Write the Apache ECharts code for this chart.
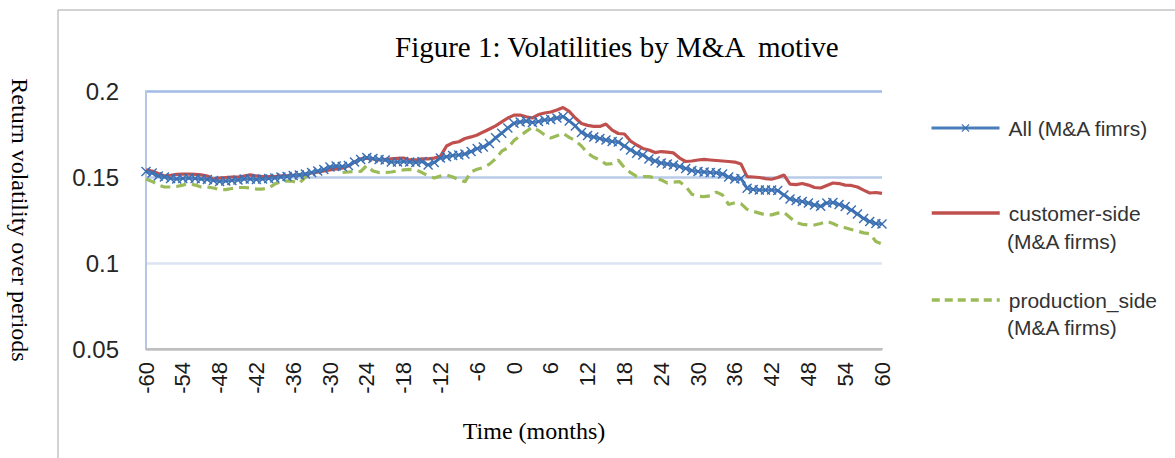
<!DOCTYPE html>
<html>
<head>
<meta charset="utf-8">
<script src="https://cdn.jsdelivr.net/npm/echarts@6/dist/echarts.min.js"></script>
<style>
html,body{margin:0;padding:0;background:#fff;}
#chart{width:1175px;height:458px;}
</style>
</head>
<body>
<div id="chart"></div>
<script>
var months = ['-60','-59','-58','-57','-56','-55','-54','-53','-52','-51',
'-50','-49','-48','-47','-46','-45','-44','-43','-42','-41',
'-40','-39','-38','-37','-36','-35','-34','-33','-32','-31',
'-30','-29','-28','-27','-26','-25','-24','-23','-22','-21',
'-20','-19','-18','-17','-16','-15','-14','-13','-12','-11',
'-10','-9','-8','-7','-6','-5','-4','-3','-2','-1',
'0','1','2','3','4','5','6','7','8','9',
'10','11','12','13','14','15','16','17','18','19',
'20','21','22','23','24','25','26','27','28','29',
'30','31','32','33','34','35','36','37','38','39',
'40','41','42','43','44','45','46','47','48','49',
'50','51','52','53','54','55','56','57','58','59',
'60'];

var allFirms = [
0.1532,0.1523,0.1506,0.1500,0.1491,0.1488,0.1491,0.1494,0.1491,0.1488,
0.1485,0.1480,0.1474,0.1477,0.1480,0.1483,0.1488,0.1488,0.1485,0.1488,
0.1491,0.1494,0.1500,0.1503,0.1509,0.1512,0.1517,0.1526,0.1535,0.1544,
0.1558,0.1564,0.1561,0.1567,0.1587,0.1602,0.1613,0.1608,0.1602,0.1599,
0.1587,0.1587,0.1590,0.1587,0.1584,0.1590,0.1570,0.1585,0.1610,0.1618,
0.1625,0.1628,0.1634,0.1648,0.1665,0.1675,0.1695,0.1728,0.1755,0.1785,
0.1812,0.1820,0.1826,0.1817,0.1823,0.1831,0.1834,0.1843,0.1852,0.1826,
0.1797,0.1759,0.1741,0.1733,0.1724,0.1715,0.1706,0.1703,0.1680,0.1657,
0.1638,0.1628,0.1605,0.1593,0.1581,0.1576,0.1570,0.1561,0.1550,0.1538,
0.1532,0.1529,0.1526,0.1525,0.1517,0.1500,0.1488,0.1491,0.1434,0.1427,
0.1424,0.1424,0.1424,0.1421,0.1395,0.1372,0.1363,0.1358,0.1349,0.1337,
0.1330,0.1349,0.1352,0.1340,0.1328,0.1308,0.1285,0.1259,0.1241,0.1230,
0.1227];

var customerSide = [
0.1540,0.1535,0.1520,0.1506,0.1510,0.1515,0.1517,0.1517,0.1515,0.1512,
0.1506,0.1488,0.1494,0.1497,0.1500,0.1500,0.1506,0.1512,0.1506,0.1503,
0.1503,0.1503,0.1506,0.1506,0.1509,0.1512,0.1517,0.1523,0.1529,0.1535,
0.1541,0.1547,0.1552,0.1564,0.1587,0.1605,0.1610,0.1605,0.1599,0.1602,
0.1605,0.1608,0.1610,0.1599,0.1599,0.1605,0.1605,0.1610,0.1620,0.1680,
0.1698,0.1705,0.1724,0.1733,0.1744,0.1762,0.1779,0.1797,0.1820,0.1843,
0.1860,0.1860,0.1850,0.1843,0.1863,0.1872,0.1878,0.1890,0.1904,0.1881,
0.1843,0.1811,0.1800,0.1794,0.1794,0.1808,0.1773,0.1753,0.1750,0.1709,
0.1686,0.1666,0.1657,0.1642,0.1648,0.1645,0.1640,0.1610,0.1590,0.1593,
0.1599,0.1602,0.1599,0.1596,0.1593,0.1590,0.1587,0.1576,0.1502,0.1500,
0.1497,0.1491,0.1487,0.1497,0.1512,0.1459,0.1456,0.1462,0.1453,0.1439,
0.1436,0.1451,0.1465,0.1462,0.1453,0.1451,0.1442,0.1424,0.1407,0.1410,
0.1405];

var productionSide = [
0.1488,0.1474,0.1453,0.1442,0.1442,0.1445,0.1453,0.1462,0.1453,0.1442,
0.1442,0.1436,0.1427,0.1427,0.1433,0.1439,0.1439,0.1436,0.1430,0.1430,
0.1436,0.1459,0.1473,0.1477,0.1474,0.1464,0.1500,0.1520,0.1530,0.1538,
0.1558,0.1552,0.1526,0.1529,0.1532,0.1532,0.1567,0.1535,0.1526,0.1526,
0.1529,0.1535,0.1541,0.1544,0.1541,0.1526,0.1506,0.1494,0.1505,0.1512,
0.1500,0.1485,0.1472,0.1530,0.1545,0.1555,0.1575,0.1605,0.1650,0.1670,
0.1712,0.1740,0.1765,0.1790,0.1770,0.1745,0.1727,0.1740,0.1754,0.1730,
0.1712,0.1680,0.1638,0.1615,0.1599,0.1575,0.1578,0.1598,0.1555,0.1525,
0.1503,0.1503,0.1502,0.1495,0.1483,0.1465,0.1470,0.1473,0.1445,0.1400,
0.1388,0.1386,0.1390,0.1412,0.1395,0.1340,0.1350,0.1345,0.1312,0.1300,
0.1290,0.1280,0.1280,0.1290,0.1295,0.1265,0.1235,0.1225,0.1221,0.1221,
0.1230,0.1242,0.1230,0.1213,0.1205,0.1195,0.1185,0.1175,0.1170,0.1125,
0.1110];

var seriesNames = ['All (M&A fimrs)', 'customer-side', 'production_side'];
var secondLines = ['(M&A firms)', '(M&A firms)'];
var yTicks = { min: 0.05, max: 0.2, interval: 0.05 };

var sans = 'Liberation Sans, Arial, sans-serif';
var serif = 'Liberation Serif, Times New Roman, serif';
var xMark = 'path://M0,1L1,0L5,4L9,0L10,1L6,5L10,9L9,10L5,6L1,10L0,9L4,5Z';

var chart = echarts.init(document.getElementById('chart'), null, { renderer: 'svg' });

function legendAt(name, top, hideSymbol, lineStyle) {
  var lg = {
    data: [name], left: 930, top: top, padding: 0, orient: 'vertical',
    itemWidth: 68, itemHeight: 10, selectedMode: false,
    lineStyle: lineStyle,
    textStyle: { fontFamily: sans, fontSize: 21, color: '#333', lineHeight: 24, padding: [0, 0, 0, 4] }
  };
  if (hideSymbol) { lg.itemStyle = { color: 'transparent', borderColor: 'transparent', borderWidth: 0, opacity: 0 }; }
  return lg;
}

chart.setOption({
  animation: false,
  backgroundColor: '#fff',
  title: {
    text: 'Figure 1: Volatilities by M&A  motive',
    left: 395, top: 32, padding: 0,
    textStyle: { fontFamily: serif, fontSize: 29, fontWeight: 'normal', color: '#000' }
  },
  legend: [
    legendAt(seriesNames[0], 116, false, { width: 3 }),
    legendAt(seriesNames[1], 201, true, { width: 3.5 }),
    legendAt(seriesNames[2], 288, true, { width: 3.5, type: [8, 5] })
  ],
  graphic: [
    { type: 'rect', silent: true, shape: { x: 58, y: 10, width: 1200, height: 500 },
      style: { fill: 'none', stroke: '#a6a6a6', lineWidth: 1 } },
    { type: 'text', x: 1007, y: 241, silent: true,
      style: { text: secondLines[0], fontFamily: sans, fontSize: 21, fill: '#333', verticalAlign: 'middle' } },
    { type: 'text', x: 1007, y: 327, silent: true,
      style: { text: secondLines[1], fontFamily: sans, fontSize: 21, fill: '#333', verticalAlign: 'middle' } }
  ],
  grid: { left: 145, right: 293, top: 91, bottom: 109, containLabel: false },
  xAxis: {
    type: 'category', data: months, boundaryGap: false,
    name: 'Time (months)', nameLocation: 'middle', nameGap: 70,
    nameTextStyle: { fontFamily: serif, fontSize: 24, color: '#000', padding: [0, 0, 0, 40] },
    axisLine: { lineStyle: { color: '#bfbfbf', width: 2 } },
    axisTick: { show: false },
    axisLabel: { interval: 5, rotate: 90, margin: 13, fontFamily: sans, fontSize: 22, color: '#1a1a1a' },
    splitLine: { show: false }
  },
  yAxis: {
    type: 'value', min: yTicks.min, max: yTicks.max, interval: yTicks.interval,
    name: 'Return volatility over periods', nameLocation: 'middle', nameGap: 114, nameRotate: -90,
    nameTextStyle: { fontFamily: serif, fontSize: 24, color: '#000' },
    axisLine: { show: true, lineStyle: { color: '#b4c7e7', width: 2 } },
    axisTick: { show: false },
    axisLabel: { margin: 27, fontFamily: sans, fontSize: 24, color: '#262626' },
    splitLine: { show: true, lineStyle: { color: ['#c0c0c0', '#dce4f3', '#b9cbe9', '#a2bbe5'], width: 2.5 } }
  },
  series: [
    {
      name: seriesNames[0], type: 'line', data: allFirms,
      symbol: xMark, symbolSize: 10, showSymbol: true, showAllSymbol: true,
      itemStyle: { color: '#3b6fb2' },
      lineStyle: { color: '#4a7ebb', width: 3 },
      z: 3
    },
    {
      name: seriesNames[1], type: 'line', data: customerSide,
      symbol: 'none',
      itemStyle: { color: '#c0504d' },
      lineStyle: { color: '#c0504d', width: 3.2 },
      z: 2
    },
    {
      name: seriesNames[2], type: 'line', data: productionSide,
      symbol: 'none',
      itemStyle: { color: '#9bbb59' },
      lineStyle: { color: '#9bbb59', width: 3.2, type: [10, 6] },
      z: 1
    }
  ]
});
</script>
</body>
</html>
